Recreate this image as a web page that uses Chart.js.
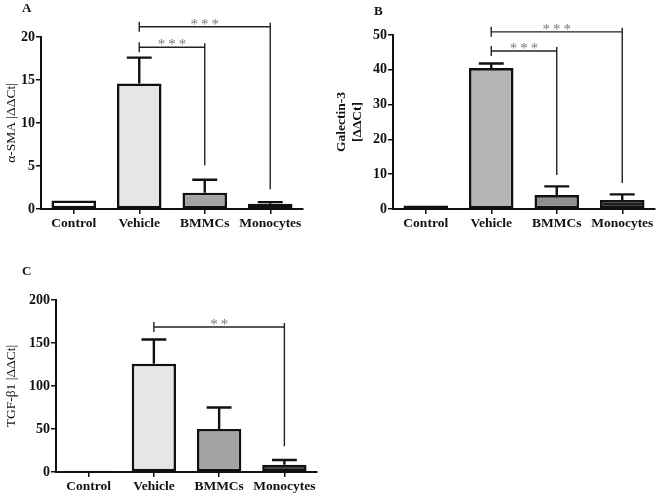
<!DOCTYPE html>
<html>
<head>
<meta charset="utf-8">
<script src="https://cdn.jsdelivr.net/npm/chart.js@4.4.1/dist/chart.umd.min.js"></script>
<style>
  body { margin: 0; background: #fff; }
  #wrap { position: relative; width: 656px; height: 494px; }
  canvas { position: absolute; }
  .tag { position: absolute; font: bold 13px "Liberation Serif", serif; color: #111; }
</style>
</head>
<body>
<div id="wrap">
  <canvas id="chart-a" style="left:0;top:0" width="330" height="240"></canvas>
  <canvas id="chart-b" style="left:330px;top:0" width="326" height="240"></canvas>
  <canvas id="chart-c" style="left:0;top:240px" width="330" height="254"></canvas>
  <div class="tag" style="left:22px;top:0px">A</div>
  <div class="tag" style="left:374px;top:3px">B</div>
  <div class="tag" style="left:22px;top:263px">C</div>
</div>
<script>
let groups = ["Control", "Vehicle", "BMMCs", "Monocytes"]

// panel A - alpha-SMA
let smaMean = [1, 14.6, 1.9, 0.6]
let smaSem = [0, 3.0, 1.5, 0.2]
let smaTicks = [0, 5, 10, 15, 20]
let smaSig = [
    { from: 1, to: 2, y: 18.8, end: 5.1, text: "***" },
    { from: 1, to: 3, y: 21.2, end: 2.3, text: "***" }
]

// panel B - Galectin-3
let galMean = [1, 40.5, 4.0, 2.6]
let galSem = [0, 1.3, 2.5, 1.6]
let galTicks = [0, 10, 20, 30, 40, 50]
let galSig = [
    { from: 1, to: 2, y: 45.4, end: 9.8, text: "***" },
    { from: 1, to: 3, y: 50.9, end: 7.5, text: "***" }
]

// panel C - TGF-beta1
let tgfMean = [1.5, 126, 50, 8.5]
let tgfSem = [0, 28, 25, 5.5]
let tgfTicks = [0, 50, 100, 150, 200]
let tgfSig = [
    { from: 1, to: 3, y: 168.6, end: 30, text: "**" }
]

let serif = "'Liberation Serif', 'Times New Roman', serif"

// error bars (upper only) + significance brackets
let extras = {
    id: "extras",
    afterDatasetsDraw(chart, args, opts) {
        let ctx = chart.ctx
        let y = chart.scales.y
        let meta = chart.getDatasetMeta(0)
        let mean = chart.data.datasets[0].data
        ctx.save()
        ctx.strokeStyle = "#111"
        ctx.lineWidth = 2.4
        meta.data.forEach((bar, i) => {
            if (!opts.sem[i]) return
            let top = y.getPixelForValue(mean[i] + opts.sem[i])
            let half = bar.width * 0.28
            ctx.beginPath()
            ctx.moveTo(bar.x, bar.y)
            ctx.lineTo(bar.x, top)
            ctx.moveTo(bar.x - half, top)
            ctx.lineTo(bar.x + half, top)
            ctx.stroke()
        })
        ctx.lineWidth = 1.4
        ctx.strokeStyle = "#222"
        opts.sig.forEach(s => {
            let x1 = meta.data[s.from].x
            let x2 = meta.data[s.to].x
            let yl = y.getPixelForValue(s.y)
            let ye = y.getPixelForValue(s.end)
            ctx.beginPath()
            ctx.moveTo(x1, yl - 5)
            ctx.lineTo(x1, yl + 5)
            ctx.moveTo(x1, yl)
            ctx.lineTo(x2, yl)
            ctx.moveTo(x2, yl - 4)
            ctx.lineTo(x2, ye)
            ctx.stroke()
            ctx.fillStyle = "#777"
            ctx.font = "15px " + serif
            ctx.letterSpacing = "3px"
            ctx.textAlign = "center"
            ctx.textBaseline = "alphabetic"
            ctx.fillText(s.text, (x1 + x2) / 2 + 1.5, yl + 2)
        })
        ctx.restore()
    }
}

function makeChart(id, mean, sem, ticks, sig, colors, title, titleBold, box) {
    return new Chart(document.getElementById(id).getContext("2d"), {
        type: "bar",
        data: {
            labels: groups,
            datasets: [{
                data: mean,
                backgroundColor: colors,
                borderColor: "#111",
                borderWidth: 2.6,
                borderSkipped: false,
                categoryPercentage: 1,
                barPercentage: 0.68
            }]
        },
        options: {
            responsive: false,
            animation: false,
            layout: { padding: { top: box.top, right: box.right, left: 0, bottom: 0 } },
            plugins: {
                legend: { display: false },
                tooltip: { enabled: false },
                extras: { sem: sem, sig: sig }
            },
            scales: {
                x: {
                    afterFit: s => { s.height = box.xh },
                    border: { display: true, color: "#111", width: 2 },
                    grid: { drawOnChartArea: false, offset: false, color: "#111", lineWidth: 1.5, tickLength: 5 },
                    ticks: {
                        color: "#111", padding: 1, autoSkip: false, maxRotation: 0, minRotation: 0,
                        font: { family: serif, size: 13.5, weight: "bold" }
                    }
                },
                y: {
                    min: 0,
                    max: ticks[ticks.length - 1],
                    afterFit: s => { s.width = box.yw },
                    afterBuildTicks: s => { s.ticks = ticks.map(v => ({ value: v })) },
                    border: { display: true, color: "#111", width: 2 },
                    grid: { drawOnChartArea: false, color: "#111", lineWidth: 1.5, tickLength: 5 },
                    ticks: { color: "#111", padding: 1, font: { family: serif, size: 14, weight: "bold" } },
                    title: {
                        display: true,
                        text: title,
                        color: "#111",
                        padding: { top: 3, bottom: 0 },
                        font: { family: serif, size: 13.5, weight: titleBold ? "bold" : "normal" }
                    }
                }
            }
        },
        plugins: [extras]
    })
}

let chartA = makeChart("chart-a", smaMean, smaSem, smaTicks, smaSig,
    ["#ffffff", "#e6e6e6", "#a3a3a3", "#1c1c1c"], "α-SMA |ΔΔCt|", false,
    { top: 37, right: 27, yw: 41, xh: 31 })

let chartB = makeChart("chart-b", galMean, galSem, galTicks, galSig,
    ["#ffffff", "#b5b5b5", "#8e8e8e", "#1c1c1c"], ["Galectin-3", "[ΔΔCt]"], true,
    { top: 35, right: 1, yw: 63, xh: 31 })

let chartC = makeChart("chart-c", tgfMean, tgfSem, tgfTicks, tgfSig,
    ["#ffffff", "#e6e6e6", "#a3a3a3", "#1c1c1c"], "TGF-β1 |ΔΔCt|", false,
    { top: 60, right: 13, yw: 56, xh: 22 })
</script>
</body>
</html>
